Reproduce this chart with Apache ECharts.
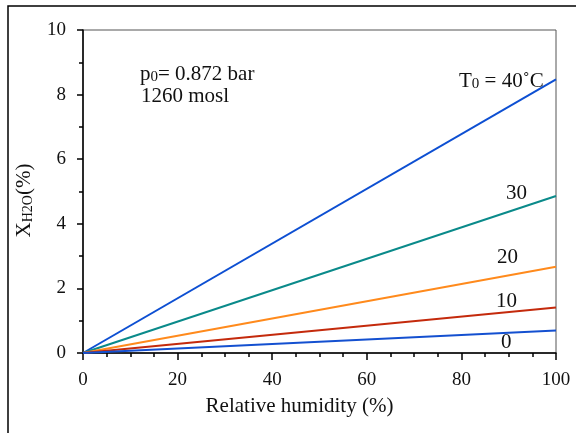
<!DOCTYPE html>
<html><head><meta charset="utf-8">
<script src="https://cdn.jsdelivr.net/npm/echarts@6/dist/echarts.min.js"></script>
<style>html,body{margin:0;padding:0;background:#fff}#c{width:576px;height:433px}</style>
</head><body><div id="c"></div>
<script>
const humidity = [0, 100];
const t40 = [0, 8.47];
const t30 = [0, 4.86];
const t20 = [0, 2.67];
const t10 = [0, 1.41];
const t0 = [0, 0.70];
const seriesNames = ['40', '30', '20', '10', '0'];
const seriesColors = ['#0d4fd2', '#0a8a8a', '#ff8a1c', '#c42a0c', '#1450d0'];
const seriesValues = [t40, t30, t20, t10, t0];

const F = 'Liberation Serif';
const chart = echarts.init(document.getElementById('c'));
const series = seriesValues.map((vals, i) => ({
  name: seriesNames[i], type: 'line', symbol: 'none', silent: true,
  data: humidity.map((x, j) => [x, vals[j]]),
  lineStyle: { color: seriesColors[i], width: 2 }
}));
const big = { fontFamily: F, fontSize: 21, fill: '#111', verticalAlign: 'bottom', lineHeight: 24 };
const sub = { fontFamily: F, fontSize: 15, fill: '#111', verticalAlign: 'bottom', lineHeight: 20 };
chart.setOption({
  animation: false,
  grid: { left: 83, top: 30, right: 20, bottom: 80, show: true, borderColor: '#555', borderWidth: 1 },
  xAxis: {
    type: 'value', min: 0, max: 100, interval: 20,
    name: 'Relative humidity (%)', nameLocation: 'middle', nameGap: 43,
    nameTextStyle: { fontFamily: F, fontSize: 21, color: '#111', padding: [0, 40, 0, 0] },
    axisLine: { show: true, onZero: false, lineStyle: { color: '#000', width: 1.5 } },
    axisTick: { show: true, inside: false, length: 7, lineStyle: { color: '#000', width: 1.5 } },
    minorTick: { show: true, splitNumber: 4, length: 4, lineStyle: { color: '#000', width: 1.5 } },
    axisLabel: { fontFamily: F, fontSize: 19, color: '#111', margin: 18 },
    splitLine: { show: false }
  },
  yAxis: {
    type: 'value', min: 0, max: 10, interval: 2,
    name: '{x|X}{s|H2O}{x|(%)}', nameLocation: 'middle', nameGap: 48, nameRotate: 90,
    nameTextStyle: { padding: [0, 18, 0, 0], rich: {
      x: { fontFamily: F, fontSize: 21, color: '#111', verticalAlign: 'bottom', lineHeight: 24 },
      s: { fontFamily: F, fontSize: 14, color: '#111', verticalAlign: 'bottom', lineHeight: 20 }
    } },
    axisLine: { show: true, onZero: false, lineStyle: { color: '#000', width: 1.5 } },
    axisTick: { show: true, inside: false, length: 6, lineStyle: { color: '#000', width: 1.5 } },
    minorTick: { show: true, splitNumber: 2, length: 4, lineStyle: { color: '#000', width: 1.5 } },
    axisLabel: { fontFamily: F, fontSize: 19, color: '#111', margin: 17 },
    splitLine: { show: false }
  },
  series: series,
  graphic: [
    { type: 'polyline', shape: { points: [[8, 440], [8, 6], [590, 6]] }, style: { stroke: '#000', lineWidth: 1.5, fill: null }, silent: true },
    { type: 'text', left: 140, top: 64, style: { text: '{a|p}{b|0}{a|= 0.872 bar}', rich: { a: big, b: sub } } },
    { type: 'text', left: 141, top: 86, style: { text: '1260 mosl', font: '21px "Liberation Serif"', fill: '#111' } },
    { type: 'text', left: 459, top: 71, style: { text: '{a|T}{b|0}{a| = 40˚C}', rich: { a: big, b: sub } } },
    { type: 'text', left: 506, top: 183, style: { text: '30', font: '21px "Liberation Serif"', fill: '#111' } },
    { type: 'text', left: 497, top: 247, style: { text: '20', font: '21px "Liberation Serif"', fill: '#111' } },
    { type: 'text', left: 496, top: 291, style: { text: '10', font: '21px "Liberation Serif"', fill: '#111' } },
    { type: 'text', left: 501, top: 332, style: { text: '0', font: '21px "Liberation Serif"', fill: '#111' } }
  ]
});
</script></body></html>
